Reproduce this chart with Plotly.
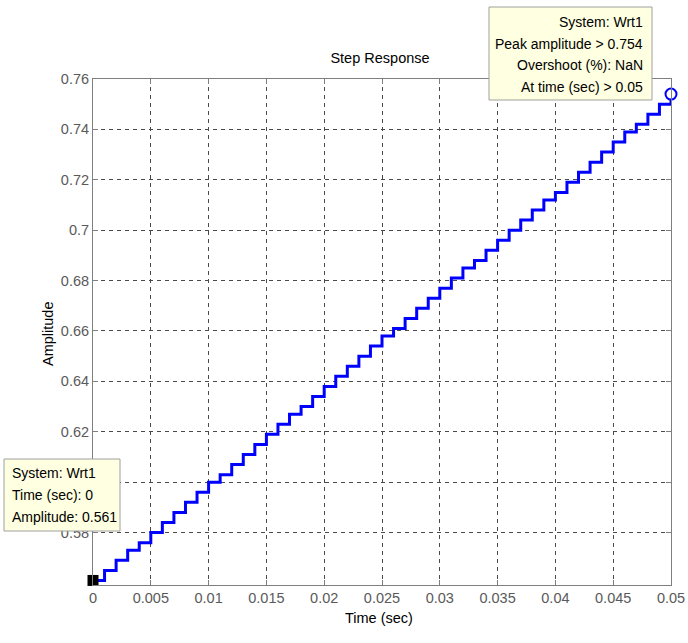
import plotly.graph_objects as go

# Data
time_s = [0.000, 0.001, 0.002, 0.003, 0.004, 0.005, 0.006, 0.007, 0.008, 0.009,
          0.010, 0.011, 0.012, 0.013, 0.014, 0.015, 0.016, 0.017, 0.018, 0.019,
          0.020, 0.021, 0.022, 0.023, 0.024, 0.025, 0.026, 0.027, 0.028, 0.029,
          0.030, 0.031, 0.032, 0.033, 0.034, 0.035, 0.036, 0.037, 0.038, 0.039,
          0.040, 0.041, 0.042, 0.043, 0.044, 0.045, 0.046, 0.047, 0.048, 0.049,
          0.050]
amplitude = [0.561, 0.565, 0.569, 0.573, 0.576, 0.580, 0.584, 0.588, 0.592, 0.596,
             0.600, 0.603, 0.607, 0.611, 0.615, 0.619, 0.623, 0.627, 0.630, 0.634,
             0.638, 0.642, 0.646, 0.650, 0.654, 0.658, 0.661, 0.665, 0.669, 0.673,
             0.677, 0.681, 0.685, 0.688, 0.692, 0.696, 0.700, 0.704, 0.708, 0.712,
             0.715, 0.719, 0.723, 0.727, 0.731, 0.735, 0.739, 0.742, 0.746, 0.750,
             0.754]
x_ticks = [0, 0.005, 0.01, 0.015, 0.02, 0.025, 0.03, 0.035, 0.04, 0.045, 0.05]
x_tick_text = ["0", "0.005", "0.01", "0.015", "0.02", "0.025", "0.03", "0.035", "0.04", "0.045", "0.05"]
y_ticks = [0.58, 0.6, 0.62, 0.64, 0.66, 0.68, 0.7, 0.72, 0.74, 0.76]
# "0.6" is hidden behind the data-tip box in the reference
y_tick_text = ["0.58", "", "0.62", "0.64", "0.66", "0.68", "0.7", "0.72", "0.74", "0.76"]
start_tip = ["System: Wrt1", "Time (sec): 0", "Amplitude: 0.561"]
peak_tip = ["System: Wrt1", "Peak amplitude > 0.754", "Overshoot (%): NaN", "At time (sec) > 0.05"]

W, H = 688, 643
L, R, T, B = 93, 17, 79, 58
pw, ph = W - L - R, H - T - B

def px(x):
    return (x - L) / pw

def py(y):
    return (H - B - y) / ph

FONT = "Liberation Sans, Arial, sans-serif"
FS = 14.5
GRAY = "#7f7f7f"

fig = go.Figure()
fig.add_trace(go.Scatter(x=time_s, y=amplitude, mode="lines",
                         line=dict(color="#0000ff", width=3, shape="hv"),
                         hoverinfo="skip", showlegend=False))
fig.add_trace(go.Scatter(x=[time_s[0]], y=[amplitude[0]], mode="markers",
                         marker=dict(symbol="square", size=11, color="black"),
                         cliponaxis=False, showlegend=False))
fig.add_trace(go.Scatter(x=[time_s[-1]], y=[amplitude[-1]], mode="markers",
                         marker=dict(symbol="circle", size=11, color="white",
                                     line=dict(color="#0000ff", width=2)),
                         cliponaxis=False, showlegend=False))

axis_common = dict(showline=True, linecolor=GRAY, linewidth=1, mirror="ticks",
                   ticks="inside", ticklen=5, tickcolor=GRAY,
                   showgrid=True, gridcolor="#4a4a4a", gridwidth=1, griddash="4px,4px",
                   zeroline=False, automargin=False,
                   tickfont=dict(family=FONT, size=FS, color="#5a5a5a"))

fig.update_xaxes(range=[0, 0.05], tickvals=x_ticks, ticktext=x_tick_text, **axis_common)
fig.update_yaxes(range=[0.5592, 0.76], tickvals=y_ticks, ticktext=y_tick_text, **axis_common)

annotations = [
    dict(text="Time (sec)", x=px(379), y=py(628), xref="paper", yref="paper",
         showarrow=False, font=dict(family=FONT, size=FS, color="black")),
    dict(text="Amplitude", x=px(38), y=py(334), xref="paper", yref="paper",
         showarrow=False, textangle=-90, font=dict(family=FONT, size=FS, color="black")),
]
shapes = [
    dict(type="rect", xref="paper", yref="paper", x0=px(4), x1=px(120), y0=py(531), y1=py(459),
         fillcolor="#ffffe1", line=dict(color="#a0a0a0", width=1), layer="above"),
    dict(type="rect", xref="paper", yref="paper", x0=px(489), x1=px(652), y0=py(100), y1=py(7),
         fillcolor="#ffffe1", line=dict(color="#a0a0a0", width=1), layer="above"),
]
for i, t in enumerate(start_tip):
    annotations.append(dict(text=t, x=px(10), y=py(473 + 22 * i), xref="paper", yref="paper",
                            xanchor="left", yanchor="middle", showarrow=False,
                            font=dict(family=FONT, size=14, color="black")))
for i, t in enumerate(peak_tip):
    annotations.append(dict(text=t, x=px(645), y=py(22 + 21.7 * i), xref="paper", yref="paper",
                            xanchor="right", yanchor="middle", showarrow=False,
                            font=dict(family=FONT, size=14, color="black")))

fig.update_layout(
    width=W, height=H,
    margin=dict(l=L, r=R, t=T, b=B),
    paper_bgcolor="white", plot_bgcolor="white",
    title=dict(text="Step Response", x=380 / W, xanchor="center",
               y=1 - 58 / H, yanchor="middle", yref="container",
               font=dict(family=FONT, size=FS, color="black")),
    annotations=annotations, shapes=shapes, showlegend=False,
)

fig.write_html("out.html",
               post_script="document.body.style.margin='0';"
                           "document.body.style.overflow='hidden';"
                           "document.documentElement.style.overflow='hidden';")
